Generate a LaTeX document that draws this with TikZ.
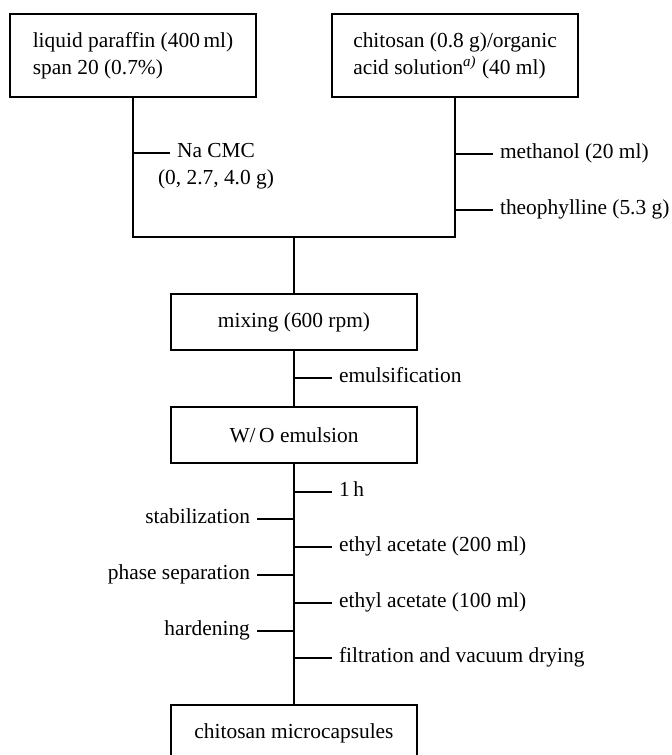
\documentclass[tikz,border=0pt]{standalone}
\usepackage{fontspec}
\setmainfont{Liberation Serif}
\usetikzlibrary{positioning}
\newcommand\flowfont{\fontsize{10.7pt}{13.5pt}\selectfont}

\begin{document}
\begin{tikzpicture}
    [x=0.5pt,y=-0.5pt,
     box/.style={draw,line width=0.7pt,minimum width=123pt,minimum height=28pt,font=\flowfont},
     inbox/.style={box,minimum height=41.5pt,align=left},
     lbl/.style={font=\flowfont,text height=7pt,text depth=2.3pt},
     tick/.style={line width=0.7pt}]
    \useasboundingbox (0,0) rectangle (672,755);
    \clip (0,0) rectangle (672,755);

    % starting materials
    \node[inbox] (paraffin) at (133,55.5) {liquid paraffin (400\,ml)\\span 20 (0.7\%)};
    \node[inbox] (chitosan) at (455,55.5) {chitosan (0.8 g)/organic\\acid solution\textsuperscript{\itshape a)} (40 ml)};

    \coordinate (join) at (294,237);
    \draw[tick] (paraffin.south) |- (join) -| (chitosan.south);

    \node[lbl,anchor=west] (cmc) at (170,153) {Na CMC};
    \node[lbl,anchor=base] (cmcamt) at ([yshift=-13.5pt]cmc.base) {(0, 2.7, 4.0 g)};
    \draw[tick] (cmc.west) -- (cmc.west -| paraffin.south);

    \node[lbl,anchor=west] (methanol) at (493,154) {methanol (20 ml)};
    \node[lbl,anchor=west] (theo) at (493,210) {theophylline (5.3 g)};
    \draw[tick] (methanol.west) -- (methanol.west -| chitosan.south);
    \draw[tick] (theo.west) -- (theo.west -| chitosan.south);

    % process
    \node[box] (mixing) at (294,322) {mixing (600 rpm)};
    \node[box] (emulsion) at (294,435) {W/\,O emulsion};
    \node[box] (capsules) at (294,733) {chitosan microcapsules};

    \draw[tick] (join) -- (mixing.north);
    \draw[tick] (mixing.south) -- (emulsion.north);
    \draw[tick] (emulsion.south) -- (capsules.north);

    \node[lbl,anchor=west] (emuls) at (332,378) {emulsification};
    \node[lbl,anchor=west] (hour) at (332,492) {1\,h};
    \node[lbl,anchor=west] (ethyla) at (332,547) {ethyl acetate (200 ml)};
    \node[lbl,anchor=west] (ethylb) at (332,603) {ethyl acetate (100 ml)};
    \node[lbl,anchor=west] (drying) at (332,658) {filtration and vacuum drying};
    \foreach \n in {emuls,hour,ethyla,ethylb,drying}
        \draw[tick] (\n.west) -- (\n.west -| mixing.south);

    \node[lbl,anchor=east] (stab) at (257,519) {stabilization};
    \node[lbl,anchor=east] (phase) at (257,575) {phase separation};
    \node[lbl,anchor=east] (hard) at (257,631) {hardening};
    \foreach \n in {stab,phase,hard}
        \draw[tick] (\n.east) -- (\n.east -| mixing.south);
\end{tikzpicture}
\end{document}
